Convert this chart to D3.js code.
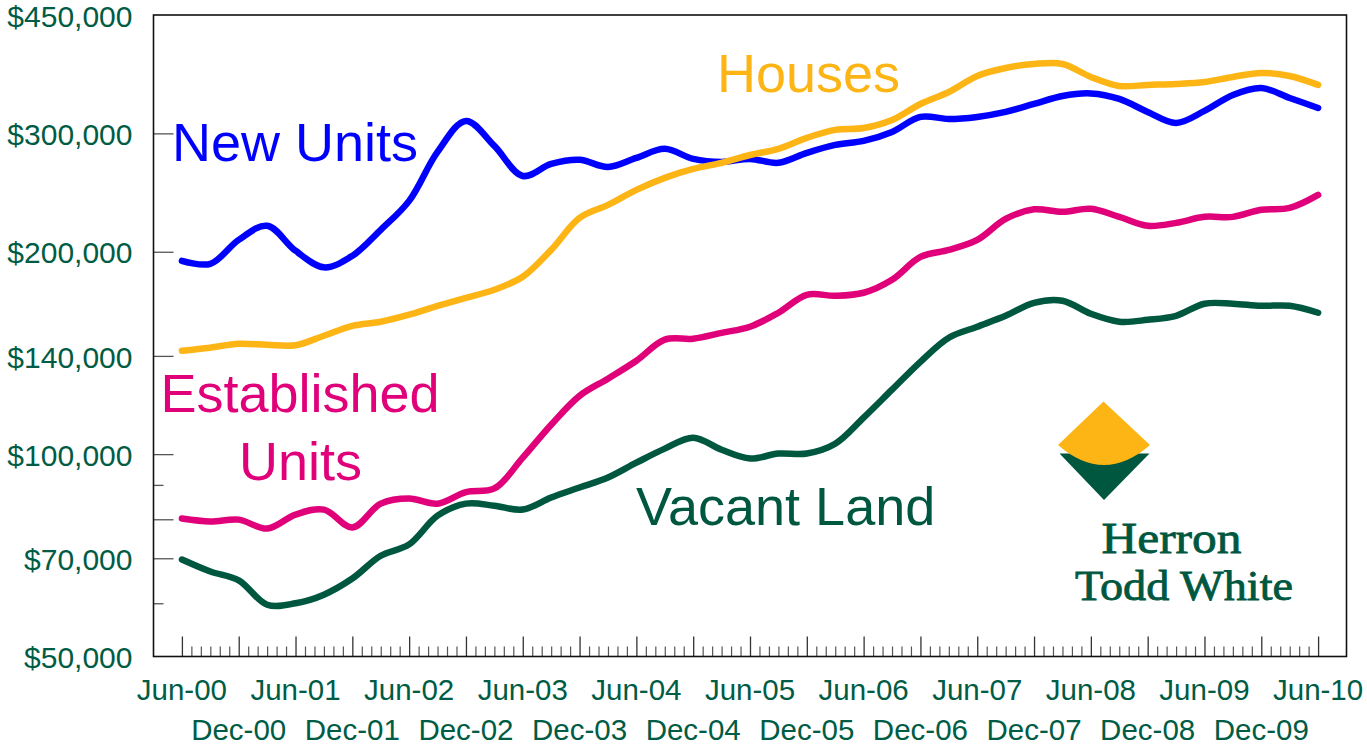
<!DOCTYPE html>
<html>
<head>
<meta charset="utf-8">
<script src="https://cdn.jsdelivr.net/npm/d3@7"></script>
<style>
  html, body { margin: 0; padding: 0; background: #fff; }
  svg { display: block; font-family: "Liberation Sans", Arial, sans-serif; }
</style>
</head>
<body>
<svg id="chart" width="1367" height="746"></svg>
<script>
// ---- data (quarterly, Jun-00 .. Jun-10) ----
const quarters = ["Jun-00","Sep-00","Dec-00","Mar-01","Jun-01","Sep-01","Dec-01","Mar-02","Jun-02","Sep-02","Dec-02","Mar-03","Jun-03","Sep-03","Dec-03","Mar-04","Jun-04","Sep-04","Dec-04","Mar-05","Jun-05","Sep-05","Dec-05","Mar-06","Jun-06","Sep-06","Dec-06","Mar-07","Jun-07","Sep-07","Dec-07","Mar-08","Jun-08","Sep-08","Dec-08","Mar-09","Jun-09","Sep-09","Dec-09","Mar-10","Jun-10"];

const newUnits = [193900,191900,208300,218600,200700,189600,197200,215600,238100,281600,313100,287400,259300,270200,274000,267400,275800,284500,274900,272100,274900,271200,280600,288400,292400,301500,317400,315200,317400,322900,331800,341000,344000,337600,322900,310900,324000,342200,350500,338700,327300];
const houses = [142500,144000,145900,145400,145200,150000,155200,157400,161200,166200,170800,175600,183600,201300,224600,234800,247200,257600,265600,271200,278600,284500,295400,303600,305600,314100,331800,345700,365200,375300,380500,380500,364000,352900,354200,355400,357800,364000,369000,365200,354200];
const establishedUnits = [80200,79400,79900,77500,81300,82700,77800,84400,85900,84400,87800,88900,98800,110600,122100,129500,137700,148000,148500,151500,154700,162300,172600,172000,173800,181700,196500,201300,208300,223800,231300,229300,231700,225400,218600,220800,225400,225400,230900,232400,243000];
const vacantLand = [69700,66900,64900,59700,60000,61800,65300,70600,73400,81000,84400,83800,82700,86200,89200,92300,97100,101900,105800,101500,98500,100200,100200,103600,113300,124700,137200,149000,154700,160600,167900,169100,161700,157400,158400,160600,167400,167400,166200,166200,162300];

const yLabelTicks = [50000,70000,100000,140000,200000,300000,450000];
const yMajorTicks = [70000,80000,100000,140000,200000,300000];
const yMinorTicks = [60000,90000];
const junLabels = ["Jun-00","Jun-01","Jun-02","Jun-03","Jun-04","Jun-05","Jun-06","Jun-07","Jun-08","Jun-09","Jun-10"];
const decLabels = ["Dec-00","Dec-01","Dec-02","Dec-03","Dec-04","Dec-05","Dec-06","Dec-07","Dec-08","Dec-09"];

const seriesNames = ["New Units","Houses","Established Units","Vacant Land"];
const seriesColors = ["#0000FF","#FDB515","#E0007A","#00573F"];

// ---- layout ----
const svg = d3.select("#chart");
const L = 153.5, R = 1346.5, T = 15, B = 656.5;
const textGreen = "#005C45";

// month index: Jun-00 = 0
const x = d3.scaleLinear().domain([-3, 123]).range([L, R]);
const y = d3.scaleLog().domain([50000, 450000]).range([B, T]);

const fmt = d3.format("$,");

// Y labels
svg.append("g")
  .attr("transform", `translate(${L},0)`)
  .call(d3.axisLeft(y).tickValues(yLabelTicks).tickSize(0).tickPadding(21).tickFormat(fmt))
  .call(g => g.select(".domain").remove())
  .call(g => g.selectAll("text").attr("fill", textGreen).attr("font-size", 30)
        .attr("dy", "0.37em")
        .attr("font-family", "Liberation Sans, Arial, sans-serif"));

// Y inner ticks
svg.append("g")
  .attr("transform", `translate(${L},0)`)
  .call(d3.axisRight(y).tickValues(yMajorTicks).tickSize(20).tickFormat(""))
  .call(g => g.select(".domain").remove())
  .call(g => g.selectAll("line").attr("stroke", "#555").attr("stroke-width", 1.3));
svg.append("g")
  .attr("transform", `translate(${L},0)`)
  .call(d3.axisRight(y).tickValues(yMinorTicks).tickSize(10).tickFormat(""))
  .call(g => g.select(".domain").remove())
  .call(g => g.selectAll("line").attr("stroke", "#555").attr("stroke-width", 1.3));

// X ticks (monthly minor, half-yearly major)
const months = d3.range(0, 121);
svg.append("g")
  .attr("transform", `translate(0,${B})`)
  .call(d3.axisTop(x).tickValues(months.filter(m => m % 6 !== 0)).tickSize(10).tickFormat(""))
  .call(g => g.select(".domain").remove())
  .call(g => g.selectAll("line").attr("stroke", "#555").attr("stroke-width", 1.2));
svg.append("g")
  .attr("transform", `translate(0,${B})`)
  .call(d3.axisTop(x).tickValues(months.filter(m => m % 6 === 0)).tickSize(20).tickFormat(""))
  .call(g => g.select(".domain").remove())
  .call(g => g.selectAll("line").attr("stroke", "#333").attr("stroke-width", 1.3));

// X labels
svg.append("g").selectAll("text").data(junLabels).join("text")
  .attr("x", (d, i) => x(i * 12)).attr("y", 700)
  .attr("text-anchor", "middle").attr("font-size", 29.5).attr("fill", textGreen)
  .text(d => d);
svg.append("g").selectAll("text").data(decLabels).join("text")
  .attr("x", (d, i) => x(i * 12 + 6)).attr("y", 740)
  .attr("text-anchor", "middle").attr("font-size", 29.5).attr("fill", textGreen)
  .text(d => d);

// Frame
svg.append("rect").attr("x", L).attr("y", T).attr("width", R - L).attr("height", B - T)
  .attr("fill", "none").attr("stroke", "#111").attr("stroke-width", 1.6);

// Lines
const allSeries = [newUnits, houses, establishedUnits, vacantLand];
const line = d3.line()
  .x((d, i) => x(i * 3))
  .y(d => y(d))
  .curve(d3.curveCatmullRom.alpha(0.5));
svg.append("g").selectAll("path").data(allSeries).join("path")
  .attr("d", d => line(d))
  .attr("fill", "none")
  .attr("stroke", (d, i) => seriesColors[i])
  .attr("stroke-width", 6.5)
  .attr("stroke-linecap", "round")
  .attr("stroke-linejoin", "round");

// Series labels
const lab = svg.append("g").attr("font-size", 54);
lab.append("text").attr("x", 172).attr("y", 161).attr("fill", seriesColors[0]).text(seriesNames[0]);
lab.append("text").attr("x", 717).attr("y", 92).attr("fill", seriesColors[1]).text(seriesNames[1]);
lab.append("text").attr("x", 300).attr("y", 412).attr("text-anchor", "middle").attr("fill", seriesColors[2]).text("Established");
lab.append("text").attr("x", 300.5).attr("y", 480).attr("text-anchor", "middle").attr("fill", seriesColors[2]).text("Units");
lab.append("text").attr("x", 636).attr("y", 525).attr("fill", seriesColors[3]).text(seriesNames[3]);

// Logo
const logo = svg.append("g");
logo.append("path")
  .attr("d", "M1059.5,453.5 L1149.5,453.5 L1104,500 Z")
  .attr("fill", "#00573F");
logo.append("path")
  .attr("d", "M1058,445 L1103.5,401.5 L1150,445 Q1104,485 1058,445 Z")
  .attr("fill", "#FDB515");
logo.append("text")
  .attr("x", 1101.5).attr("y", 553)
  .attr("font-family", "Liberation Serif, Times New Roman, serif")
  .attr("font-size", 45).attr("fill", "#00573F")
  .attr("stroke", "#00573F").attr("stroke-width", 0.8)
  .attr("textLength", 140).attr("lengthAdjust", "spacingAndGlyphs")
  .text("Herron");
logo.append("text")
  .attr("x", 1075).attr("y", 600)
  .attr("font-family", "Liberation Serif, Times New Roman, serif")
  .attr("font-size", 42).attr("fill", "#00573F")
  .attr("stroke", "#00573F").attr("stroke-width", 0.8)
  .attr("textLength", 218).attr("lengthAdjust", "spacingAndGlyphs")
  .text("Todd White");
</script>
</body>
</html>
